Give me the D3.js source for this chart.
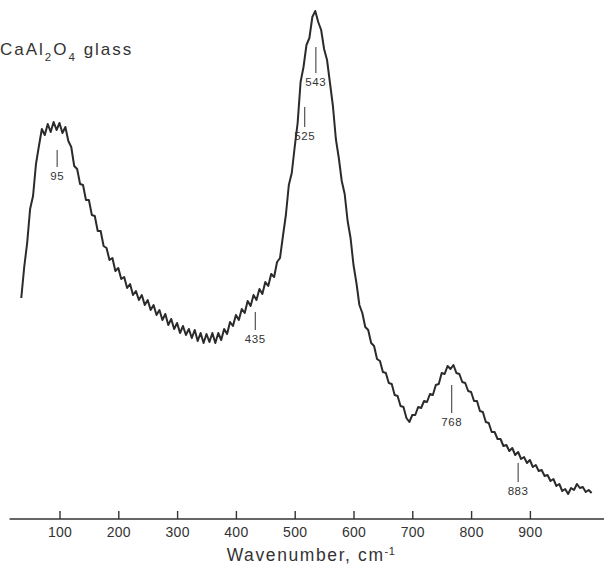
<!DOCTYPE html>
<html>
<head>
<meta charset="utf-8">
<script src="https://cdn.jsdelivr.net/npm/d3@7"></script>
<style>
  html, body { margin: 0; padding: 0; background: #fff; }
  svg { display: block; }
  text { font-family: "Liberation Sans", Arial, Helvetica, sans-serif; fill: #333; }
</style>
</head>
<body>
<svg id="chart" width="604" height="567"></svg>
<script>
// ---- data ----
const wavenumbers = d3.range(35, 1006, 5);
const intensity = [
  221,252,276,310,323,355,373,390,384,395,387,397,389,396,386,392,378,372,353,350,
  335,334,319,319,304,303,288,288,273,271,259,261,248,251,240,242,231,235,224,228,
  219,224,214,219,209,214,204,209,199,205,194,200,190,196,186,193,184,190,181,189,
  178,186,176,185,177,186,176,186,179,190,185,197,193,204,199,210,206,218,213,224,
  219,230,225,237,233,245,242,257,261,283,304,334,346,372,396,437,452,474,481,502,
  508,497,489,470,459,436,413,380,361,338,325,298,281,254,236,214,206,192,189,176,
  173,160,158,147,146,136,135,124,123,113,112,101,97,104,104,112,111,118,117,125,
  124,134,135,146,145,153,150,154,146,145,137,136,128,127,118,118,108,107,97,96,
  87,87,80,80,73,74,68,71,64,67,60,62,56,59,52,54,48,49,43,44,
  38,40,33,35,28,30,25,31,29,35,31,32,27,29,26
];
const tickValues = [100, 200, 300, 400, 500, 600, 700, 800, 900];
const markerLabels = ["95", "435", "525", "543", "768", "883"];
const markerPos    = [96, 433, 517, 536, 767, 880];     // where the tick marks are drawn
const markerTop    = [369, 207, 412, 472, 134, 56];     // intensity units
const markerBottom = [352, 189, 392, 446, 106, 37];

const svg = d3.select("#chart");
const x = d3.scaleLinear().domain([0, 1000]).range([0.7, 588.7]);
const y = d3.scaleLinear().domain([0, 510]).range([519, 9]);

const series = wavenumbers.map((w, i) => ({ w, v: intensity[i] })).filter(d => d.v !== undefined);

// axis
const axisG = svg.append("g").attr("transform", `translate(0,${y(0)})`);
axisG.call(d3.axisBottom(x).tickValues(tickValues).tickSizeInner(-8).tickSizeOuter(0).tickPadding(8));
axisG.select(".domain").remove();
axisG.append("line")
  .attr("x1", x(15)).attr("x2", x(1030))
  .attr("stroke", "#333").attr("stroke-width", 1.6);
axisG.selectAll(".tick line").attr("stroke", "#333").attr("stroke-width", 1.4);
axisG.selectAll(".tick text")
  .style("font-size", "14px").style("letter-spacing", "0.3px").attr("fill", "#333")
  .style("font-family", "'Liberation Sans', Arial, sans-serif");

// title
const title = svg.append("text")
  .attr("x", 311).attr("y", 561)
  .attr("text-anchor", "middle")
  .style("font-size", "17.5px").style("letter-spacing", "1.6px");
title.append("tspan").text("Wavenumber, cm");
title.append("tspan").attr("dy", -6).style("font-size", "11px").style("letter-spacing", "0.5px").text("-1");

// sample label
const lab = svg.append("text").attr("x", 0).attr("y", 55)
  .style("font-size", "17px").style("letter-spacing", "2px");
lab.append("tspan").text("CaAl");
lab.append("tspan").attr("dy", 6).style("font-size", "11.5px").text("2");
lab.append("tspan").attr("dy", -6).text("O");
lab.append("tspan").attr("dy", 6).style("font-size", "11.5px").text("4");
lab.append("tspan").attr("dy", -6).text(" glass");

// spectrum
svg.append("path")
  .datum(series)
  .attr("fill", "none")
  .attr("stroke", "#2b2b2b")
  .attr("stroke-width", 2)
  .attr("stroke-linejoin", "round")
  .attr("d", d3.line().x(d => x(d.w)).y(d => y(d.v)));

// peak markers
const markers = markerLabels.map((l, i) => ({ l, w: markerPos[i], t: markerTop[i], b: markerBottom[i] }));
const mg = svg.append("g");
mg.selectAll("line").data(markers).join("line")
  .attr("x1", d => x(d.w)).attr("x2", d => x(d.w))
  .attr("y1", d => y(d.t)).attr("y2", d => y(d.b))
  .attr("stroke", "#444").attr("stroke-width", 1.1);
mg.selectAll("text").data(markers).join("text")
  .attr("x", d => x(d.w)).attr("y", d => y(d.b) + 13)
  .attr("text-anchor", "middle")
  .style("font-size", "11.5px").style("letter-spacing", "0.6px")
  .text(d => d.l);
</script>
</body>
</html>
